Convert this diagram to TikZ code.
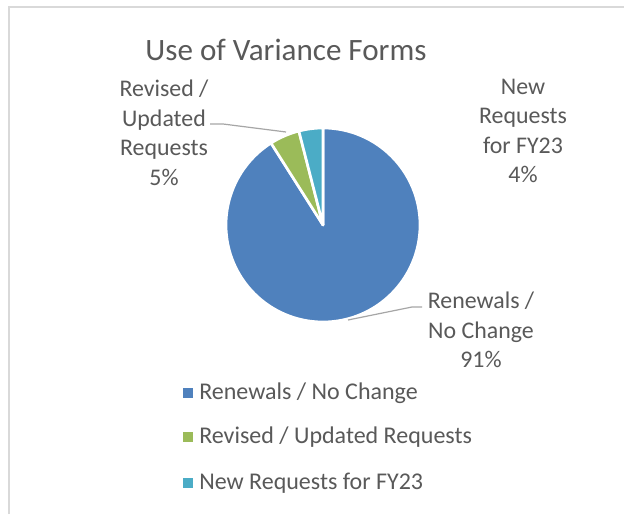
\documentclass[tikz,border=0pt]{standalone}
\usepackage{fontspec}
\setmainfont{Carlito}
\definecolor{cblue}{HTML}{4F81BD}
\definecolor{cgreen}{HTML}{9BBB59}
\definecolor{ccyan}{HTML}{4BACC6}
\definecolor{ctext}{HTML}{595959}
\definecolor{cleader}{HTML}{A6A6A6}
\definecolor{cframe}{HTML}{D9D9D9}
\begin{document}
\begin{tikzpicture}[x=0.75pt,y=0.75pt,
  slice/.style={draw=white,line width=2pt,line join=round},
  lbl/.style={text=ctext,align=center,inner sep=0pt,font=\fontsize{17.9pt}{22.1pt}\selectfont},
  legtext/.style={text=ctext,anchor=west,inner sep=0pt,font=\fontsize{18pt}{22.1pt}\selectfont},
  legmark/.style={minimum size=7.5pt,inner sep=0pt},
  leader/.style={draw=cleader,line width=0.9pt}]
\useasboundingbox (0,0) rectangle (624,514);
\fill[white] (0,0) rectangle (624,514);
\draw[cframe,line width=1.5pt] (9,0) -- (9,506.5) -- (624,506.5);
\node[text=ctext,font=\fontsize{23.3pt}{28pt}\selectfont] (title) at (286,464) {Use of Variance Forms};
\coordinate (c) at (323,289);
\fill[cblue,slice] (c) -- ++(90:97) arc[start angle=90,end angle=-237.6,radius=97] -- cycle;
\fill[cgreen,slice] (c) -- ++(122.4:97) arc[start angle=122.4,end angle=104.4,radius=97] -- cycle;
\fill[ccyan,slice] (c) -- ++(104.4:97) arc[start angle=104.4,end angle=90,radius=97] -- cycle;
\node[lbl] (lrev) at (164,381) {Revised /\\Updated\\Requests\\5\%};
\node[lbl] (lnew) at (523,383) {New\\Requests\\for FY23\\4\%};
\node[lbl] (lren) at (481,184) {Renewals /\\No Change\\91\%};
\coordinate (pren) at (348,194);
\coordinate (kren) at (412,207);
\coordinate (eren) at (422,207);
\draw[leader] (pren) -- (kren) -- (eren);
\coordinate (prev) at (286,382);
\coordinate (krev) at (223,390);
\coordinate (erev) at (210,390);
\draw[leader] (prev) -- (krev) -- (erev);
\node[legmark,fill=cblue] (m1) at (188,121) {};
\node[legtext] (t1) at (199,121) {Renewals / No Change};
\node[legmark,fill=cgreen] (m2) at (188,77) {};
\node[legtext] (t2) at (199,77) {Revised / Updated Requests};
\node[legmark,fill=ccyan] (m3) at (188,31) {};
\node[legtext] (t3) at (199,31) {New Requests for FY23};
\end{tikzpicture}
\end{document}
